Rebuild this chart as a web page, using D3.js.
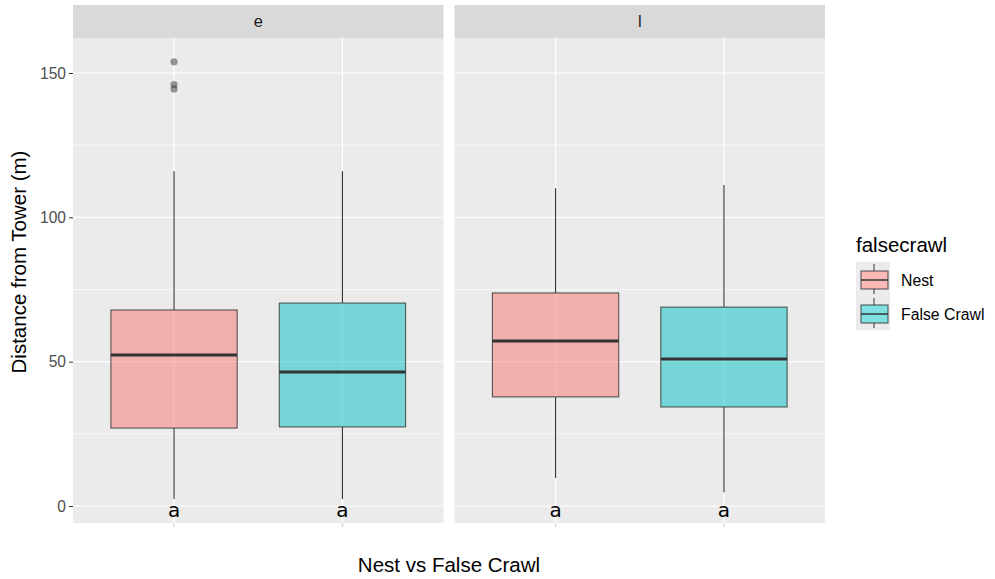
<!doctype html>
<html lang="en">
<head>
<meta charset="UTF-8" />
<title>Distance from Tower</title>
<script src="https://d3js.org/d3.v7.min.js"></script>
<style>
  body { margin: 0; background: #fff; }
  svg { display: block; font-family: "Liberation Sans", Arial, sans-serif; }
</style>
</head>
<body>
<svg id="chart" width="995" height="579"></svg>
<script>
// data
const facets = ["e", "l"];
const crawlTypes = ["Nest", "False Crawl"];
const whiskerLow = [[2.4, 2.4], [9.7, 4.8]];
const q1Vals = [[27.0, 27.4], [37.8, 34.3]];
const medians = [[52.3, 46.4], [57.2, 50.9]];
const q3Vals = [[67.9, 70.3], [73.8, 68.9]];
const whiskerHigh = [[116.0, 116.0], [110.1, 111.2]];
const outliers = [[[153.9, 146.0, 144.5], []], [[], []]];
const letters = [["a", "a"], ["a", "a"]];
const yTicks = [0, 50, 100, 150];
const yMinor = [25, 75, 125];
const fills = ["#F8766D", "#00BFC4"];

const svg = d3.select("#chart");
const panelTop = 38, panelBottom = 523, stripTop = 5;

const y = d3.scaleLinear().domain([0, 150]).range([506, 73]);
const fx = d3.scaleBand().domain(facets).range([73, 825]).paddingInner(0.029);
const x = d3.scalePoint().domain(crawlTypes).range([0, fx.bandwidth()]).padding(0.6);
const boxW = x.step() * 0.75;

facets.forEach((f, fi) => {
  const g = svg.append("g").attr("transform", `translate(${fx(f)},0)`);
  const w = fx.bandwidth();

  // strip
  g.append("rect").attr("x", 0).attr("y", stripTop).attr("width", w)
    .attr("height", panelTop - stripTop).attr("fill", "#D9D9D9");
  g.append("text").attr("x", w / 2).attr("y", 27).attr("text-anchor", "middle")
    .attr("font-size", 16.5).attr("fill", "#1A1A1A").text(f);

  // panel background + grid
  g.append("rect").attr("x", 0).attr("y", panelTop).attr("width", w)
    .attr("height", panelBottom - panelTop).attr("fill", "#EBEBEB");
  g.selectAll(".minor").data(yMinor).join("line")
    .attr("x1", 0).attr("x2", w).attr("y1", d => y(d)).attr("y2", d => y(d))
    .attr("stroke", "#fff").attr("stroke-width", 0.6);
  g.selectAll(".major").data(yTicks).join("line")
    .attr("x1", 0).attr("x2", w).attr("y1", d => y(d)).attr("y2", d => y(d))
    .attr("stroke", "#fff").attr("stroke-width", 1.2);
  g.selectAll(".vgrid").data(crawlTypes).join("line")
    .attr("x1", d => x(d)).attr("x2", d => x(d)).attr("y1", panelTop).attr("y2", panelBottom)
    .attr("stroke", "#fff").attr("stroke-width", 1.2);

  // x ticks (labels blank)
  g.selectAll(".xtick").data(crawlTypes).join("line")
    .attr("x1", d => x(d)).attr("x2", d => x(d)).attr("y1", panelBottom).attr("y2", panelBottom + 4)
    .attr("stroke", "#ccc").attr("stroke-width", 1);

  crawlTypes.forEach((c, ci) => {
    const cx = x(c);
    // whiskers
    g.append("line").attr("x1", cx).attr("x2", cx)
      .attr("y1", y(whiskerHigh[fi][ci])).attr("y2", y(q3Vals[fi][ci]))
      .attr("stroke", "#333").attr("stroke-width", 1.1);
    g.append("line").attr("x1", cx).attr("x2", cx)
      .attr("y1", y(q1Vals[fi][ci])).attr("y2", y(whiskerLow[fi][ci]))
      .attr("stroke", "#333").attr("stroke-width", 1.1);
    // box
    g.append("rect").attr("x", cx - boxW / 2).attr("y", y(q3Vals[fi][ci]))
      .attr("width", boxW).attr("height", y(q1Vals[fi][ci]) - y(q3Vals[fi][ci]))
      .attr("fill", fills[ci]).attr("fill-opacity", 0.5)
      .attr("stroke", "#333").attr("stroke-opacity", 0.8).attr("stroke-width", 1.1);
    // median
    g.append("line").attr("x1", cx - boxW / 2).attr("x2", cx + boxW / 2)
      .attr("y1", y(medians[fi][ci])).attr("y2", y(medians[fi][ci]))
      .attr("stroke", "#333").attr("stroke-width", 3);
    // outliers
    g.selectAll(null).data(outliers[fi][ci]).join("circle")
      .attr("cx", cx).attr("cy", d => y(d)).attr("r", 3.6)
      .attr("fill", "#333").attr("fill-opacity", 0.5);
    // letter
    g.append("text").attr("x", cx).attr("y", y(0) + 11).attr("text-anchor", "middle")
      .attr("font-family", "DejaVu Sans, sans-serif").attr("font-size", 20)
      .attr("fill", "#000").text(letters[fi][ci]);
  });
});

// y axis
const yAxis = svg.append("g").attr("transform", `translate(${fx(facets[0])},0)`)
  .call(d3.axisLeft(y).tickValues(yTicks).tickSize(4).tickPadding(3));
yAxis.select(".domain").remove();
yAxis.selectAll(".tick line").attr("stroke", "#333");
yAxis.selectAll(".tick text").attr("fill", "#4D4D4D").attr("font-size", 15.6)
  .attr("font-family", "Liberation Sans, Arial, sans-serif");

// axis titles
svg.append("text").attr("transform", "translate(26,262) rotate(-90)")
  .attr("text-anchor", "middle").attr("font-size", 20.5).attr("fill", "#000")
  .text("Distance from Tower (m)");
svg.append("text").attr("x", 449).attr("y", 572).attr("text-anchor", "middle")
  .attr("font-size", 20.5).attr("fill", "#000").text("Nest vs False Crawl");

// legend
const leg = svg.append("g").attr("transform", "translate(856,0)");
leg.append("text").attr("x", 0).attr("y", 252).attr("font-size", 20.5).attr("fill", "#000")
  .text("falsecrawl");
crawlTypes.forEach((c, i) => {
  const top = 262 + i * 34;
  leg.append("rect").attr("x", 0).attr("y", top).attr("width", 34).attr("height", 34)
    .attr("fill", "#EBEBEB");
  leg.append("line").attr("x1", 18).attr("x2", 18).attr("y1", top + 2).attr("y2", top + 32)
    .attr("stroke", "#333").attr("stroke-width", 1);
  leg.append("rect").attr("x", 5).attr("y", top + 9).attr("width", 27).attr("height", 18)
    .attr("fill", "#fff");
  leg.append("rect").attr("x", 5).attr("y", top + 9).attr("width", 27).attr("height", 18)
    .attr("fill", fills[i]).attr("fill-opacity", 0.5)
    .attr("stroke", "#333").attr("stroke-opacity", 0.8).attr("stroke-width", 1.1);
  leg.append("line").attr("x1", 5).attr("x2", 32).attr("y1", top + 18).attr("y2", top + 18)
    .attr("stroke", "#333").attr("stroke-width", 1.5);
  leg.append("text").attr("x", 45).attr("y", top + 24).attr("font-size", 15.8)
    .attr("fill", "#000").text(c);
});
</script>
</body>
</html>
